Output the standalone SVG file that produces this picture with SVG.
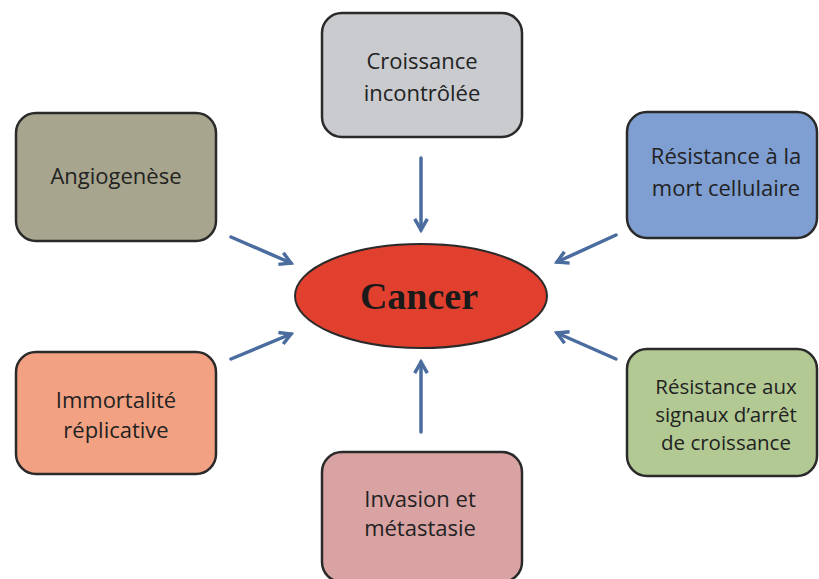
<svg xmlns="http://www.w3.org/2000/svg" width="819" height="579" viewBox="0 0 819 579">
<style>
.box{stroke:#2a2a2a;stroke-width:2.5}
.t{font-family:"Open Sans","Noto Sans",sans-serif;font-size:22px;fill:#222222;text-anchor:middle}
.s{font-size:20.5px}
.arr{stroke:#4a6c9e;stroke-width:3.5;fill:none;stroke-linecap:round}
</style>
<defs>
<marker id="ah" viewBox="0 0 10 10" refX="8" refY="5" markerWidth="4.5" markerHeight="4.5" orient="auto" markerUnits="strokeWidth">
<path d="M1,1 L8,5 L1,9" fill="none" stroke="#4a6c9e" stroke-width="2.2" stroke-linejoin="miter"/>
</marker>
</defs>
<rect width="819" height="579" fill="#ffffff"/>
<g id="croissance"><rect class="box" x="322" y="13" width="200" height="124" rx="20" fill="#c9cbcf"/>
<text class="t" x="422" y="69">Croissance</text><text class="t" x="422" y="101">incontrôlée</text></g>
<g id="angiogenese"><rect class="box" x="16" y="113" width="200" height="128" rx="20" fill="#a8a58e"/>
<text class="t" x="116" y="184">Angiogenèse</text></g>
<g id="mort"><rect class="box" x="627" y="112" width="190" height="126" rx="20" fill="#7f9fd2"/>
<text class="t" x="726" y="164">Résistance à la</text><text class="t" x="726" y="196">mort cellulaire</text></g>
<g id="cancer"><ellipse cx="421" cy="296" rx="126" ry="52" fill="#e2402e" stroke="#2a2a2a" stroke-width="2"/>
<text x="419" y="309" font-family="'Liberation Serif',serif" font-weight="bold" font-size="38" fill="#1a1a1a" text-anchor="middle">Cancer</text></g>
<g id="immortalite"><rect class="box" x="16" y="352" width="200" height="122" rx="20" fill="#f2a283"/>
<text class="t" x="116" y="408">Immortalité</text><text class="t" x="116" y="438">réplicative</text></g>
<g id="signaux"><rect class="box" x="627" y="349" width="190" height="127" rx="20" fill="#b3c993"/>
<text class="t s" x="726" y="394">Résistance aux</text><text class="t s" x="726" y="422">signaux d’arrêt</text><text class="t s" x="726" y="450">de croissance</text></g>
<g id="invasion"><rect class="box" x="322" y="452" width="200" height="130" rx="20" fill="#d9a3a3"/>
<text class="t" x="420" y="507">Invasion et</text><text class="t" x="420" y="536">métastasie</text></g>
<g id="connectors">
<line class="arr" x1="421" y1="158" x2="421" y2="230" marker-end="url(#ah)"/>
<line class="arr" x1="231" y1="237" x2="291" y2="263" marker-end="url(#ah)"/>
<line class="arr" x1="616" y1="235" x2="557" y2="262" marker-end="url(#ah)"/>
<line class="arr" x1="231" y1="359" x2="291" y2="334" marker-end="url(#ah)"/>
<line class="arr" x1="616" y1="359" x2="557" y2="333" marker-end="url(#ah)"/>
<line class="arr" x1="421" y1="432" x2="421" y2="362" marker-end="url(#ah)"/>
</g>
</svg>
